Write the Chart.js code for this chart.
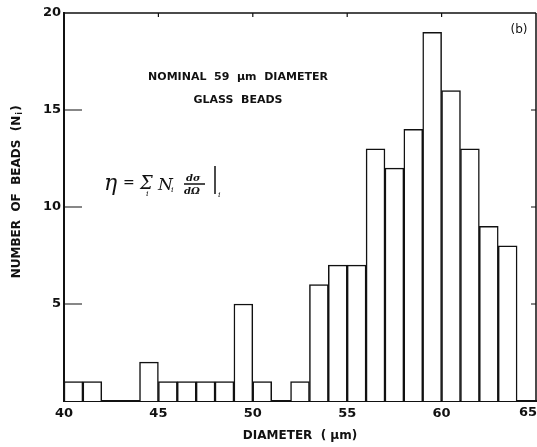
<!DOCTYPE html>
<html>
<head>
<meta charset="UTF-8">
<title>Glass bead diameters</title>
<script src="https://cdn.jsdelivr.net/npm/chart.js"></script>
<style>
  body { margin: 0; background: #fff; }
  #wrap { position: relative; width: 537px; height: 447px; }
</style>
</head>
<body>
<div id="wrap"><canvas id="c"></canvas></div>
<script>
// histogram bins, 1 um wide, left edges
const binStarts = [40, 41, 42, 43, 44, 45, 46, 47, 48, 49, 50, 51, 52,
                   53, 54, 55, 56, 57, 58, 59, 60, 61, 62, 63, 64];
const counts    = [1, 1, 0, 0, 2, 1, 1, 1, 1, 5, 1, 0, 1,
                   6, 7, 7, 13, 12, 14, 19, 16, 13, 9, 8, 0];
const xTicks = [40, 45, 50, 55, 60, 65];
const yTicks = [5, 10, 15, 20];

const INK = '#111';
const FONT = '"DejaVu Sans", "Liberation Sans", sans-serif';

const bars = binStarts
  .map((s, i) => ({ x: s + 0.5, y: counts[i] }))
  .filter(d => d.y > 0);

// frame, inward tick marks and the text inside the plot
const decor = {
  id: 'decor',
  afterDraw(chart) {
    const { ctx, chartArea: a, scales: { x, y } } = chart;
    ctx.save();
    ctx.strokeStyle = INK;
    ctx.fillStyle = INK;

    // top and right frame
    ctx.lineWidth = 1.5;
    ctx.beginPath();
    ctx.moveTo(a.left, a.top); ctx.lineTo(a.right, a.top);
    ctx.moveTo(a.right, a.top); ctx.lineTo(a.right, a.bottom);
    ctx.stroke();

    // inward ticks
    ctx.lineWidth = 1.2;
    ctx.beginPath();
    yTicks.slice(0, 3).forEach(v => {
      const py = y.getPixelForValue(v);
      ctx.moveTo(a.left, py); ctx.lineTo(a.left + 18, py);
      ctx.moveTo(a.right - 5, py); ctx.lineTo(a.right, py);
    });
    xTicks.slice(1, 5).forEach(v => {
      const px = x.getPixelForValue(v);
      ctx.moveTo(px, a.top); ctx.lineTo(px, a.top + 4);
    });
    ctx.stroke();

    // last x label, kept inside the canvas
    ctx.font = 'bold 13px ' + FONT;
    ctx.textAlign = 'right';
    ctx.textBaseline = 'top';
    ctx.fillText('65', chart.width, a.bottom + 5);

    // y title
    ctx.save();
    ctx.translate(17, 192);
    ctx.rotate(-Math.PI / 2);
    ctx.textBaseline = 'middle';
    ctx.font = 'bold 12px ' + FONT;
    const main = 'NUMBER  OF  BEADS  (N';
    const w = ctx.measureText(main).width + 10;
    ctx.textAlign = 'left';
    ctx.fillText(main, -w / 2, 0);
    ctx.font = 'bold 8px ' + FONT;
    ctx.fillText('i', -w / 2 + w - 9, 3);
    ctx.font = 'bold 12px ' + FONT;
    ctx.fillText(')', -w / 2 + w - 5, 0);
    ctx.restore();

    // annotation
    ctx.textAlign = 'center';
    ctx.textBaseline = 'middle';
    ctx.font = 'bold 11px ' + FONT;
    ctx.fillText('NOMINAL  59  \u00b5m  DIAMETER', 238, 77);
    ctx.fillText('GLASS  BEADS', 238, 100);
    ctx.font = '12px ' + FONT;
    ctx.fillText('(b)', 519, 30);

    // formula
    ctx.textAlign = 'left';
    ctx.textBaseline = 'alphabetic';
    ctx.font = 'italic 22px "DejaVu Serif", serif';
    ctx.fillText('\u03b7', 104, 190);
    ctx.font = '14px "DejaVu Serif", serif';
    ctx.fillText('=', 123, 187);
    ctx.font = 'italic 18px "DejaVu Serif", serif';
    ctx.fillText('\u03a3', 140, 189);
    ctx.font = 'italic 8px "DejaVu Serif", serif';
    ctx.fillText('i', 146, 196);
    ctx.font = 'italic 17px "DejaVu Serif", serif';
    ctx.fillText('N', 158, 190);
    ctx.font = 'italic 8px "DejaVu Serif", serif';
    ctx.fillText('i', 171, 192);
    ctx.font = 'bold italic 10px "DejaVu Serif", serif';
    ctx.fillText('d\u03c3', 186, 181);
    ctx.fillText('d\u03a9', 184, 194);
    ctx.lineWidth = 1.5;
    ctx.beginPath();
    ctx.moveTo(184, 184); ctx.lineTo(205, 184);
    ctx.moveTo(215, 166); ctx.lineTo(215, 194);
    ctx.stroke();
    ctx.font = 'italic 8px "DejaVu Serif", serif';
    ctx.fillText('i', 218, 197);

    ctx.restore();
  }
};

new Chart(document.getElementById('c'), {
  type: 'bar',
  data: {
    datasets: [{
      data: bars,
      backgroundColor: '#fff',
      borderColor: INK,
      borderWidth: 1.5,
      borderSkipped: 'bottom',
      barPercentage: 1,
      categoryPercentage: 1
    }]
  },
  options: {
    responsive: true,
    maintainAspectRatio: false,
    animation: false,
    layout: { padding: { top: 13, right: 1, bottom: 0, left: 0 } },
    plugins: {
      legend: { display: false },
      tooltip: { enabled: false }
    },
    scales: {
      x: {
        type: 'linear',
        offset: false,
        min: 40,
        max: 65,
        grid: { display: false, drawTicks: false, offset: false },
        border: { display: true, color: INK, width: 2 },
        afterBuildTicks: s => { s.ticks = xTicks.map(v => ({ value: v })); },
        afterFit: s => { s.height = 46; s.paddingLeft = 0; s.paddingRight = 0; },
        ticks: {
          padding: 5,
          color: INK,
          font: { family: FONT, size: 13, weight: 'bold' },
          callback: v => (v === 65 ? '' : v)
        },
        title: {
          display: true,
          text: 'DIAMETER  ( \u00b5m)',
          color: INK,
          font: { family: FONT, size: 12, weight: 'bold' },
          padding: { top: 0, bottom: 4 }
        }
      },
      y: {
        min: 0,
        max: 20,
        grid: { display: false, drawTicks: false },
        border: { display: true, color: INK, width: 2 },
        afterBuildTicks: s => { s.ticks = yTicks.map(v => ({ value: v })); },
        afterFit: s => { s.width = 64; s.paddingTop = 0; s.paddingBottom = 0; },
        ticks: {
          padding: 3,
          color: INK,
          font: { family: FONT, size: 13, weight: 'bold' }
        }
      }
    }
  },
  plugins: [decor]
});
</script>
</body>
</html>
